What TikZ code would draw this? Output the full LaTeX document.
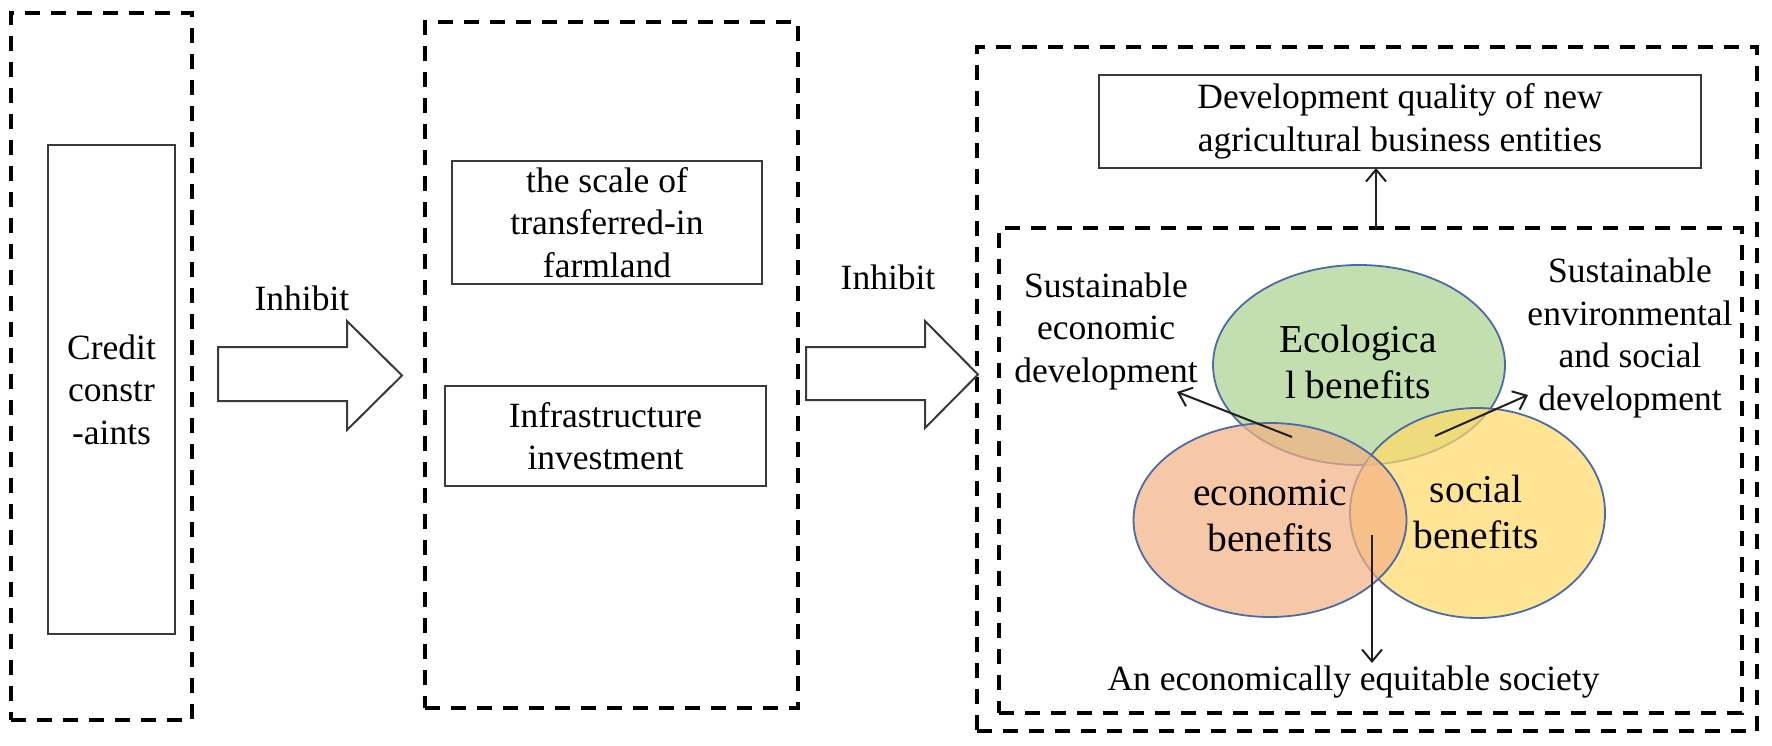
\documentclass[tikz,border=0pt]{standalone}
\usepackage{fontspec}
\setmainfont{Liberation Serif}
\usetikzlibrary{shapes.geometric,arrows.meta}
\definecolor{ecogreen}{HTML}{A9D18E}
\definecolor{socyellow}{HTML}{FFD966}
\definecolor{econorange}{HTML}{F4B183}
\definecolor{ellline}{HTML}{4A6BA8}
\definecolor{boxline}{HTML}{3A3A3A}
\newcommand\maintxt{\fontsize{35.5}{42.5}\selectfont}
\newcommand\venntxt{\fontsize{39.5}{46}\selectfont}
\begin{document}
\begin{tikzpicture}[x=1pt,y=-1pt,
  groupbox/.style={draw=black, line width=4pt, dash pattern=on 15pt off 11pt, inner sep=0pt, outer sep=0pt},
  solidbox/.style={draw=boxline, line width=2pt, inner sep=0pt, outer sep=0pt, align=center, font=\maintxt},
  plaintext/.style={align=center, font=\maintxt, inner sep=0pt},
  vtext/.style={align=center, font=\venntxt, inner sep=0pt},
  venn/.style={ellipse, draw=ellline, line width=1.8pt, fill opacity=0.7, draw opacity=1, inner sep=0pt},
  thinarrow/.style={draw=black!88, line width=2pt, -{Straight Barb[length=12pt,width=20pt,line width=2pt]}},
  blockarrow/.style={draw=boxline, line width=2pt, fill=white, line join=miter}]
\useasboundingbox (0,0) rectangle (1772,745);

% group boxes
\node[groupbox, minimum width=181pt, minimum height=707pt] (leftgroup) at (101.5,366.5) {};
\node[groupbox, minimum width=373pt, minimum height=686pt] (midgroup) at (611.5,365) {};
\node[groupbox, minimum width=780pt, minimum height=684pt] (rightgroup) at (1367,389) {};
\node[groupbox, minimum width=743pt, minimum height=485pt] (innergroup) at (1370.5,470.5) {};

% boxes
\node[solidbox, minimum width=127pt, minimum height=489pt] (credit) at (111.5,389.5) {Credit\\constr\\-aints};
\node[solidbox, minimum width=310pt, minimum height=123pt] (scale) at (607,222.5) {the scale of\\transferred-in\\farmland};
\node[solidbox, minimum width=321pt, minimum height=100pt] (infra) at (605.5,436) {Infrastructure\\investment};
\node[solidbox, minimum width=602pt, minimum height=93pt] (devq) at (1400,121.5) {Development quality of new\\agricultural business entities};

% block arrows
\draw[blockarrow] (218,347) -- (347,347) -- (347,321) -- (402,375.5) -- (347,430) -- (347,401) -- (218,401) -- cycle;
\draw[blockarrow] (806,347) -- (925,347) -- (925,321) -- (978,374.5) -- (925,428) -- (925,400) -- (806,400) -- cycle;
\node[plaintext] (inh1) at (302,298) {Inhibit};
\node[plaintext] (inh2) at (888,277) {Inhibit};

% up arrow
\draw[thinarrow] ([xshift=5.5pt]innergroup.north) -- ([xshift=5.5pt]innergroup.north |- devq.south);

% venn
\node[venn, fill=ecogreen, minimum width=292pt, minimum height=200pt] (eco) at (1359,365) {};
\node[venn, fill=socyellow, minimum width=255pt, minimum height=210pt] (soc) at (1477.5,513) {};
\node[venn, fill=econorange, minimum width=273pt, minimum height=194pt] (econ) at (1270,520) {};
\node[vtext] (ecot) at (1358,361.5) {Ecologica\\l benefits};
\node[vtext] (econt) at (1270,516) {economic\\benefits};
\node[vtext] (soct) at (1476,511.5) {social\\benefits};

% outer labels
\node[plaintext] (sed) at (1106,331) {Sustainable\\economic\\development};
\node[plaintext] (sesd) at (1630,338) {Sustainable\\environmental\\and social\\development};
\node[plaintext] (ees) at (1353.5,682) {An economically equitable society};

\coordinate (lstart) at (1292,437);
\coordinate (ltip) at (1177,392);
\coordinate (rstart) at (1435,436);
\coordinate (rtip) at (1528,395);
\coordinate (dstart) at (1372,535);
\coordinate (dtip) at (1372,663);
\draw[thinarrow] (lstart) -- (ltip);
\draw[thinarrow] (rstart) -- (rtip);
\draw[thinarrow] (dstart) -- (dtip);
\end{tikzpicture}
\end{document}
